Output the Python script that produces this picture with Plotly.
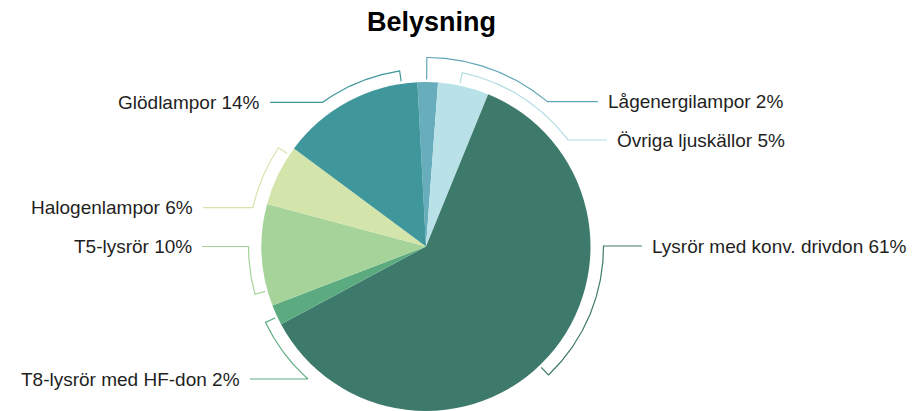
import numpy as np
import plotly.graph_objects as go

# Lighting energy use by source (share of total, %)
categories = [
    "Lågenergilampor",
    "Övriga ljuskällor",
    "Lysrör med konv. drivdon",
    "T8-lysrör med HF-don",
    "T5-lysrör",
    "Halogenlampor",
    "Glödlampor",
]
shares = [2, 5, 61, 2, 10, 6, 14]

slice_colors = ["#68adbc", "#b9e2e8", "#3e7a6c", "#5cab80", "#a6d39a", "#d4e5ab", "#3f979b"]
leader_colors = ["#5fa6b6", "#b2dde4", "#3e7a6c", "#5cab80", "#a6d39a", "#d4e5ab", "#3f979b"]

# Canvas and pie geometry (pixels)
W, H = 913, 411
CX, CY, R = 426.0, 246.5, 164.5
ROTATION = -3

# Label layout: row of each label, end of its leader line, radius of its
# bracket arc and where the bracket touches its slice (fraction of the slice)
label_y = [101.7, 140.0, 246.0, 379.0, 246.5, 207.7, 102.3]
leader_x = [598, 607, 642, 250, 202, 203, 270]
bracket_r = [189.0, 177.5, 177.5, 177.5, 177.5, 177.5, 177.5]
tick_pos = [0.45, 0.42, 0.52, 0.40, 0.15, 0.87, 0.89]
TICK_INNER = 167.0
TEXT_GAP = 8

FONT = "Liberation Sans, Arial, Helvetica, sans-serif"


def polar(angle_deg, r):
    a = np.radians(angle_deg)
    return CX + r * np.sin(a), CY - r * np.cos(a)


fig = go.Figure()

fig.add_trace(
    go.Pie(
        labels=categories,
        values=shares,
        sort=False,
        direction="clockwise",
        rotation=ROTATION,
        textinfo="none",
        hoverinfo="label+percent",
        marker=dict(colors=slice_colors, line=dict(width=0)),
        domain=dict(
            x=[(CX - R) / W, (CX + R) / W],
            y=[(H - (CY + R)) / H, (H - (CY - R)) / H],
        ),
        showlegend=False,
    )
)

# Slice angles (degrees clockwise from 12 o'clock)
total = float(sum(shares))
edges = ROTATION + 360.0 * np.concatenate([[0.0], np.cumsum(shares)]) / total

annotations = []
for i, (cat, val) in enumerate(zip(categories, shares)):
    start, end = edges[i], edges[i + 1]
    t_ang = start + tick_pos[i] * (end - start)
    rb = bracket_r[i]
    right = leader_x[i] > CX
    lab_ang = np.degrees(np.arccos(np.clip((CY - label_y[i]) / rb, -1, 1)))
    if not right:
        lab_ang = 360.0 - lab_ang

    xi, yi = polar(t_ang, TICK_INNER)
    arc = np.linspace(t_ang, lab_ang, 80)
    ax, ay = polar(arc, rb)
    xs = [xi] + list(ax) + [leader_x[i]]
    ys = [yi] + list(ay) + [label_y[i]]

    fig.add_trace(
        go.Scatter(
            x=xs,
            y=ys,
            mode="lines",
            line=dict(color=leader_colors[i], width=1.2),
            hoverinfo="skip",
            showlegend=False,
        )
    )

    annotations.append(
        dict(
            x=leader_x[i] + (TEXT_GAP if right else -TEXT_GAP),
            y=label_y[i],
            xref="x",
            yref="y",
            text=f"{cat} {val}%",
            showarrow=False,
            xanchor="left" if right else "right",
            yanchor="middle",
            font=dict(family=FONT, size=19, color="#1f1f1f"),
        )
    )

annotations.append(
    dict(
        x=431,
        y=22,
        xref="x",
        yref="y",
        text="<b>Belysning</b>",
        showarrow=False,
        xanchor="center",
        yanchor="middle",
        font=dict(family=FONT, size=27, color="#000000"),
    )
)

fig.update_layout(
    width=W,
    height=H,
    margin=dict(l=0, r=0, t=0, b=0),
    paper_bgcolor="white",
    plot_bgcolor="rgba(0,0,0,0)",
    xaxis=dict(range=[0, W], visible=False, fixedrange=True),
    yaxis=dict(range=[H, 0], visible=False, fixedrange=True),
    annotations=annotations,
)

fig.write_html("out.html")
